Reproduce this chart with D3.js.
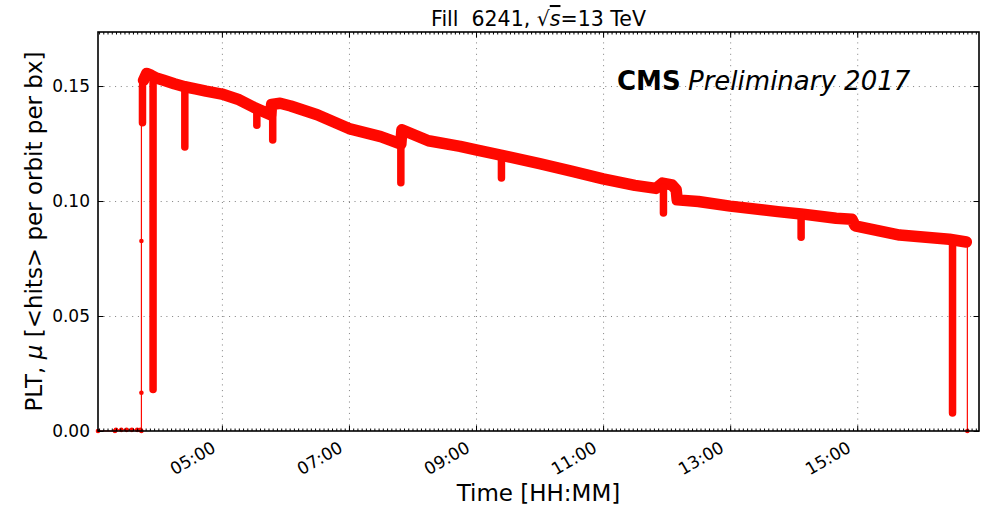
<!DOCTYPE html>
<html lang="en">
<head>
<meta charset="utf-8">
<title>PLT luminosity, Fill 6241</title>
<script src="https://cdn.jsdelivr.net/npm/d3@7"></script>
<style>
  body { margin: 0; background: #fff; }
  text { font-family: "DejaVu Sans", sans-serif; fill: #000; }
  .axis text { font-size: 17px; font-family: "DejaVu Sans", sans-serif; }
  .axis path { display: none; }
  .axis line { stroke: #000; stroke-width: 1; }
  .grid line { stroke: #7f7f7f; stroke-width: 1; stroke-dasharray: 1,4.7; }
  .grid path { display: none; }
  .axis-title { font-size: 23px; text-anchor: middle; }
</style>
</head>
<body>
<svg id="chart" width="981" height="508"></svg>
<script>

// x tick labels (HH:MM), y ticks
var hourTicks = ["05:00", "07:00", "09:00", "11:00", "13:00", "15:00"];
var muTicks = [0.00, 0.05, 0.10, 0.15];

// before beams: zero baseline and the jump (thin line with markers)
var rampTimes = ["03:03", "03:19", "03:20", "03:25", "03:30", "03:35", "03:40", "03:43", "03:44", "03:44", "03:44", "03:44"];
var rampMu    = [0, 0, 0.0005, 0.0005, 0.0005, 0.0005, 0.0005, 0.0005, 0, 0.0166, 0.0826, 0.138];

// stable beams, dense band of points
var bandTimes = ["03:46", "03:49", "03:52", "03:54", "03:58", "04:05", "04:15", "04:25", "04:35", "04:45",
                 "05:00", "05:15", "05:30", "05:46", "05:47", "05:55", "06:05", "06:30", "07:00", "07:30",
                 "07:49", "07:50", "08:15", "08:45", "09:00", "09:30", "10:00", "10:30", "11:00", "11:30",
                 "11:50", "11:56", "12:05", "12:09", "12:10", "12:30", "13:00", "13:45", "14:07", "14:40",
                 "14:55", "14:58", "15:40", "16:27", "16:43"];
var bandMu    = [0.1525, 0.1555, 0.1550, 0.1545, 0.1535, 0.1525, 0.1510, 0.1497, 0.1488, 0.1478,
                 0.1465, 0.1443, 0.1408, 0.1375, 0.1420, 0.1425, 0.1413, 0.1375, 0.1315, 0.1280,
                 0.1248, 0.1310, 0.1262, 0.1238, 0.1222, 0.1193, 0.1163, 0.1130, 0.1096, 0.1068,
                 0.1055, 0.1078, 0.1070, 0.1050, 0.1005, 0.0998, 0.0978, 0.0954, 0.0944, 0.0925,
                 0.0921, 0.0892, 0.0852, 0.0834, 0.0822];

// short dips inside the fill
var dipTimes = ["03:45", "03:55", "04:25", "05:33", "05:48", "07:49", "09:24", "11:57", "14:07", "16:30"];
var dipTop   = [0.150, 0.152, 0.149, 0.140, 0.141, 0.126, 0.119, 0.106, 0.094, 0.083];
var dipLow   = [0.134, 0.018, 0.1235, 0.133, 0.1265, 0.108, 0.110, 0.0948, 0.0843, 0.0078];

// beam dump
var dumpTimes = ["16:43", "16:44", "16:44"];
var dumpMu    = [0.0822, 0.0820, 0];

var margin = {top: 32, right: 2, bottom: 77, left: 98},
    width = 981 - margin.left - margin.right,
    height = 508 - margin.top - margin.bottom,
    red = "#ff0800";

var parse = d3.timeParse("%H:%M");

var svg = d3.select("#chart");
var plt = svg.append("g").attr("transform", "translate(" + margin.left + "," + margin.top + ")");

var x = d3.scaleTime()
          .domain([parse("03:03"), parse("16:55")])
          .range([0, width]);

var y = d3.scaleLinear()
          .domain([0, 0.1735])
          .range([height, 0]);

// grid
plt.append("g")
   .attr("class", "grid")
   .attr("transform", "translate(0," + height + ")")
   .call(d3.axisBottom(x).tickValues(hourTicks.map(parse)).tickSize(-height).tickFormat(""));

plt.append("g")
   .attr("class", "grid")
   .call(d3.axisLeft(y).tickValues(muTicks.slice(1)).tickSize(-width).tickFormat(""));

// data
var pts = function(ts, vs) { return ts.map(function(t, i) { return [parse(t), vs[i]]; }); };
var line = d3.line().x(function(d) { return x(d[0]); }).y(function(d) { return y(d[1]); });

var ramp = pts(rampTimes, rampMu),
    band = pts(bandTimes, bandMu),
    dump = pts(dumpTimes, dumpMu);

plt.append("path")
   .datum(ramp)
   .attr("d", line)
   .attr("fill", "none")
   .attr("stroke", red)
   .attr("stroke-width", 1.2);

plt.append("path")
   .datum(dump)
   .attr("d", line)
   .attr("fill", "none")
   .attr("stroke", red)
   .attr("stroke-width", 1.2);

plt.selectAll(".marker")
   .data(ramp.concat(dump))
   .enter()
   .append("circle")
   .attr("class", "marker")
   .attr("cx", function(d) { return x(d[0]); })
   .attr("cy", function(d) { return y(d[1]); })
   .attr("r", 2.3)
   .attr("fill", red);

plt.append("path")
   .datum(band)
   .attr("d", line)
   .attr("fill", "none")
   .attr("stroke", red)
   .attr("stroke-width", 11.5)
   .attr("stroke-linejoin", "round")
   .attr("stroke-linecap", "round");

plt.selectAll(".dip")
   .data(dipTimes)
   .enter()
   .append("line")
   .attr("class", "dip")
   .attr("x1", function(d) { return x(parse(d)); })
   .attr("x2", function(d) { return x(parse(d)); })
   .attr("y1", function(d, i) { return y(dipTop[i]); })
   .attr("y2", function(d, i) { return y(dipLow[i]); })
   .attr("stroke", red)
   .attr("stroke-width", 7.5)
   .attr("stroke-linecap", "round");

// axes, ticks pointing inward on all four sides
var minor = d3.timeMinute.every(4).range(x.domain()[0], x.domain()[1]);

plt.append("g")
   .attr("class", "axis")
   .attr("transform", "translate(0," + height + ")")
   .call(d3.axisBottom(x).tickValues(minor).tickSize(-2.5).tickFormat(""));

plt.append("g")
   .attr("class", "axis")
   .call(d3.axisTop(x).tickValues(minor).tickSize(-2.5).tickFormat(""));

plt.append("g")
   .attr("class", "axis")
   .attr("transform", "translate(0," + height + ")")
   .call(d3.axisBottom(x).tickValues(hourTicks.map(parse)).tickSize(-5.5).tickFormat(""));

plt.append("g")
   .attr("class", "axis")
   .call(d3.axisTop(x).tickValues(hourTicks.map(parse)).tickSize(-5.5).tickFormat(""));

plt.append("g")
   .attr("class", "axis")
   .call(d3.axisLeft(y).tickValues(muTicks).tickSizeInner(-5.5).tickPadding(8).tickFormat(d3.format(".2f")));

plt.append("g")
   .attr("class", "axis")
   .attr("transform", "translate(" + width + ",0)")
   .call(d3.axisRight(y).tickValues(muTicks).tickSize(-5.5).tickFormat(""));

plt.selectAll(".xlabel")
   .data(hourTicks)
   .enter()
   .append("text")
   .attr("class", "xlabel")
   .attr("text-anchor", "end")
   .style("font-size", "17px")
   .attr("transform", function(d) { return "translate(" + (x(parse(d)) - 5) + "," + (height + 20) + ") rotate(-30)"; })
   .text(function(d) { return d; });

plt.append("rect")
   .attr("width", width)
   .attr("height", height)
   .attr("fill", "none")
   .attr("stroke", "#000")
   .attr("stroke-width", 1.6);

// titles
var title = svg.append("text")
               .attr("x", margin.left + width / 2)
               .attr("y", 26)
               .attr("text-anchor", "middle")
               .style("font-size", "20.5px")
               .style("white-space", "pre");
title.append("tspan").text("Fill  6241, \u221A");
title.append("tspan").style("font-style", "italic").style("text-decoration", "overline").text("s");
title.append("tspan").text("=13 TeV");

svg.append("text")
   .attr("class", "axis-title")
   .attr("x", margin.left + width / 2)
   .attr("y", 501)
   .text("Time [HH:MM]");

var ylab = svg.append("text")
              .attr("class", "axis-title")
              .attr("transform", "translate(42," + (margin.top + height / 2) + ") rotate(-90)");
ylab.append("tspan").text("PLT, ");
ylab.append("tspan").style("font-style", "italic").text("\u03BC");
ylab.append("tspan").text(" [<hits> per orbit per bx]");

svg.append("text")
   .attr("x", 617)
   .attr("y", 90)
   .style("font-size", "26px")
   .style("font-weight", "bold")
   .text("CMS");

svg.append("text")
   .attr("x", 688)
   .attr("y", 90)
   .style("font-size", "26px")
   .style("font-style", "italic")
   .text("Preliminary 2017");

</script>
</body>
</html>
